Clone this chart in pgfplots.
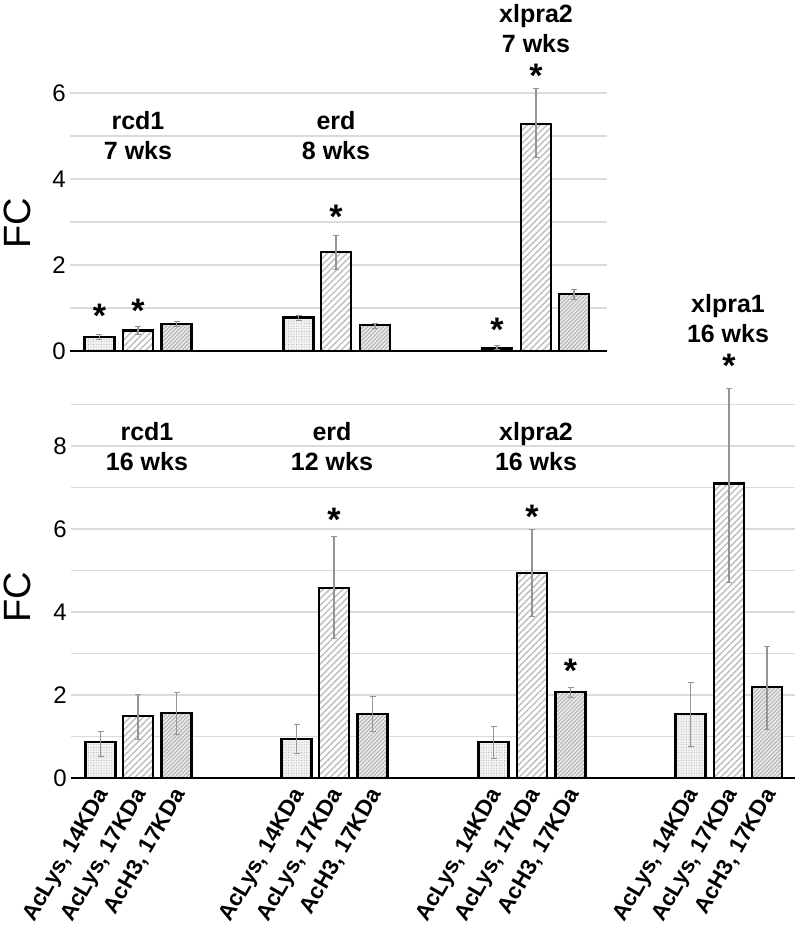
\documentclass[border=0pt]{standalone}
\usepackage{fontspec}
\setmainfont{Liberation Sans}
\usepackage{pgfplots}
\pgfplotsset{compat=1.18}
\usetikzlibrary{patterns.meta}

\tikzset{glabel/.style={font=\bfseries\fontsize{25}{30}\selectfont, align=center}}
\pgfplotsset{
  common/.style={
    scale only axis, anchor=south west, clip=false,
    axis lines*=left,
    y axis line style={draw=none},
    x axis line style={line width=2.6pt},
    major tick length=0pt, minor tick length=0pt,
    ymajorgrids, yminorgrids,
    grid style={black!14, line width=1.3pt},
    minor grid style={black!14, line width=1.3pt},
    /pgf/number format/assume math mode=true,
    yticklabel style={font=\fontsize{24}{28}\selectfont, inner sep=0pt, xshift=-4pt},
    ylabel={FC},
    ylabel style={font=\fontsize{38}{44}\selectfont, anchor=center},
  },
  barbase/.style={ybar, bar width=30, bar shift=0pt, draw=black, line width=2.4pt,
    error bars/y dir=both, error bars/y explicit,
    error bars/error bar style={line width=1.1pt, draw=black!42},
    error bars/error mark options={rotate=90, mark size=3pt, line width=1pt, draw=black!42}},
  barA/.style={barbase, fill=black!5,
    postaction={pattern={Dots[distance=2.6pt, radius=0.5pt]}, pattern color=black!35}},
  barB/.style={barbase, fill=white,
    postaction={pattern={Lines[angle=45, distance=4.6pt, line width=1.4pt]}, pattern color=black!26}},
  barC/.style={barbase, fill=black!8,
    postaction={pattern={Lines[angle=45, distance=2.8pt, line width=1pt]}, pattern color=black!30}},
  stars/.style={draw=none, mark=none, nodes near coords={*},
    every node near coord/.style={anchor=base, yshift=-19pt, inner sep=0pt, font=\bfseries\fontsize{34}{36}\selectfont}},
}

\begin{document}
\begin{tikzpicture}
\useasboundingbox (0,0) rectangle (800pt,932pt);

% ---------------- top panel ----------------
\begin{axis}[common, at={(70pt,581pt)}, width=537pt, height=270.9pt,
  xmin=70, xmax=607, ymin=0, ymax=6.3,
  ytick={0,2,4,6}, minor ytick={1,3,5}, xtick=\empty,
  ylabel style={at={(axis description cs:-0.0987,0.4725)}}]
\addplot[barA] table[x=x, y=y, y error plus=ep, y error minus=em] {
x y ep em
99.5 0.33 0.06 0.06
298.5 0.78 0.05 0.07
497 0.06 0.06 0.03
};
\addplot[barB] table[x=x, y=y, y error plus=ep, y error minus=em] {
x y ep em
138 0.48 0.10 0.09
336 2.30 0.38 0.40
536 5.28 0.83 0.79
};
\addplot[barC] table[x=x, y=y, y error plus=ep, y error minus=em] {
x y ep em
176.5 0.63 0.05 0.06
375 0.60 0.05 0.07
574 1.32 0.11 0.12
};
\addplot[stars] coordinates {(99.5,0.977) (138,1.116) (336,3.30) (497,0.674) (536,6.56)};
\node[glabel] at (axis cs:138,5.02) {rcd1\\7 wks};
\node[glabel] at (axis cs:336,5.02) {erd\\8 wks};
\node[glabel] at (axis cs:536,7.49) {xlpra2\\7 wks};
\end{axis}

% ---------------- bottom panel ----------------
\begin{axis}[common, at={(71pt,154pt)}, width=724pt, height=394.25pt,
  xmin=71, xmax=795, ymin=0, ymax=9.5,
  ytick={0,2,4,6,8}, minor ytick={1,3,5,7,9},
  xtick={100.5,138,176.5,296.5,334,372.5,493.5,532,570.5,690.5,729,767},
  xticklabels={{AcLys, 14KDa},{AcLys, 17KDa},{AcH3, 17KDa},
               {AcLys, 14KDa},{AcLys, 17KDa},{AcH3, 17KDa},
               {AcLys, 14KDa},{AcLys, 17KDa},{AcH3, 17KDa},
               {AcLys, 14KDa},{AcLys, 17KDa},{AcH3, 17KDa}},
  xticklabel style={rotate=60, anchor=east, inner sep=0pt, yshift=-10pt, xshift=-9pt,
    font=\bfseries\fontsize{22.5}{27}\selectfont},
  ylabel style={at={(axis description cs:-0.0746,0.459)}}]
\addplot[barA] table[x=x, y=y, y error plus=ep, y error minus=em] {
x y ep em
100.5 0.87 0.26 0.34
296.5 0.94 0.34 0.34
493.5 0.87 0.36 0.39
690.5 1.54 0.77 0.79
};
\addplot[barB] table[x=x, y=y, y error plus=ep, y error minus=em] {
x y ep em
138 1.49 0.53 0.57
334 4.58 1.25 1.23
532 4.94 1.04 1.04
729 7.10 2.28 2.38
};
\addplot[barC] table[x=x, y=y, y error plus=ep, y error minus=em] {
x y ep em
176.5 1.57 0.50 0.53
372.5 1.54 0.43 0.41
570.5 2.07 0.10 0.14
767 2.19 0.99 1.03
};
\addplot[stars] coordinates {(334,6.39) (532,6.48) (570.5,2.77) (729,10.1)};
\node[glabel] at (axis cs:147,7.98) {rcd1\\16 wks};
\node[glabel] at (axis cs:332,7.98) {erd\\12 wks};
\node[glabel] at (axis cs:536,7.98) {xlpra2\\16 wks};
\node[glabel] at (axis cs:728,11.08) {xlpra1\\16 wks};
\end{axis}
\end{tikzpicture}
\end{document}
